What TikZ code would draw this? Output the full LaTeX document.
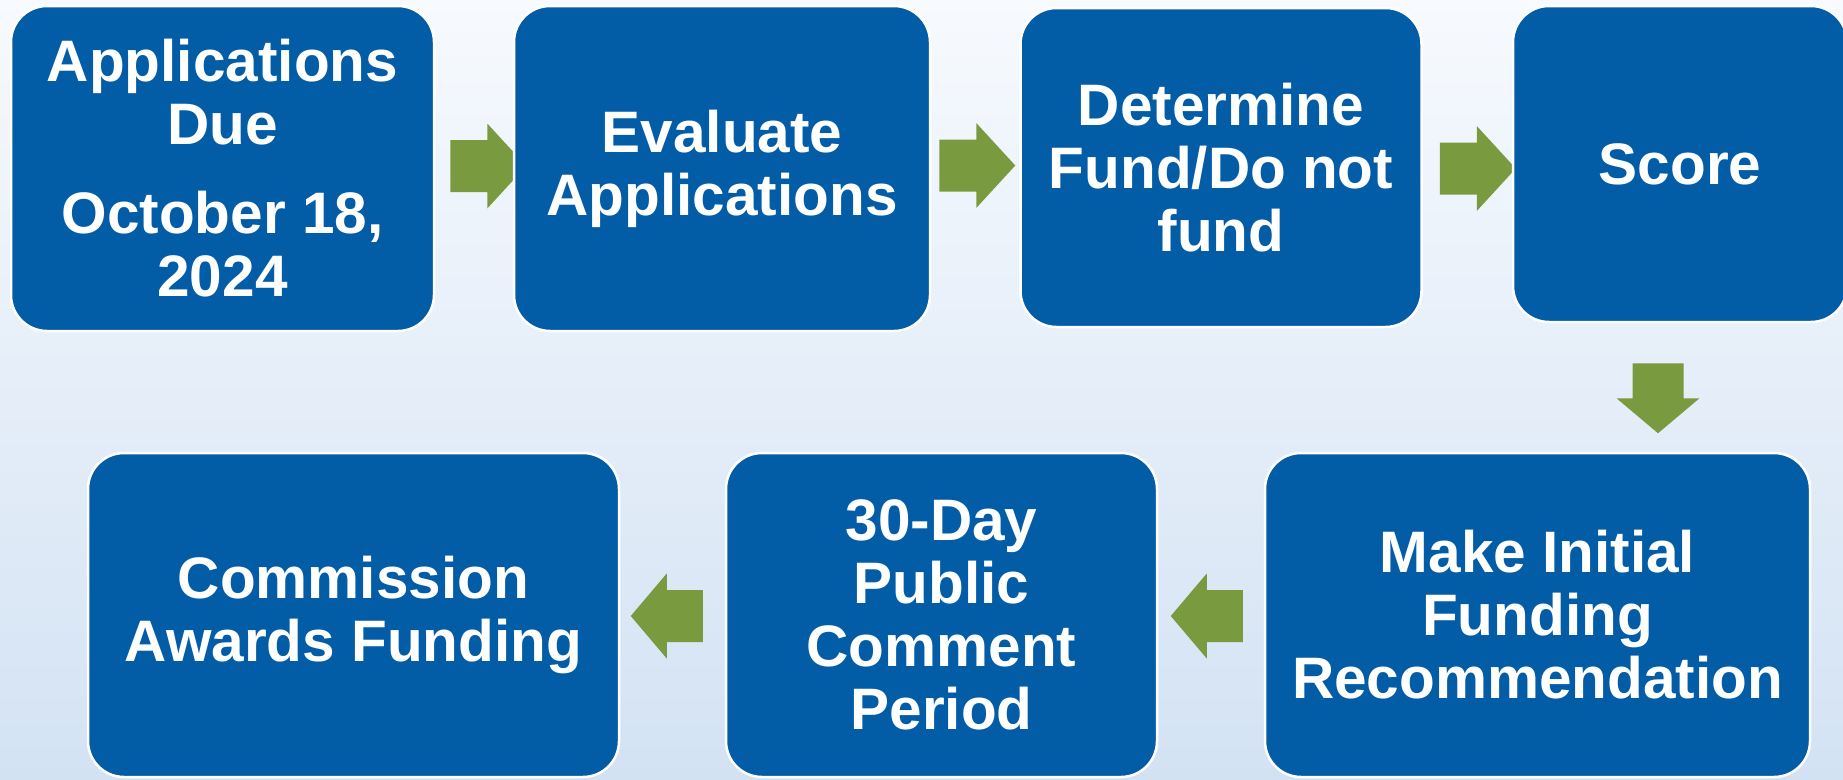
\documentclass[tikz,border=0pt]{standalone}
\usepackage{fontspec}
\setmainfont{Liberation Sans}
\usetikzlibrary{calc}
\definecolor{boxblue}{HTML}{035DA6}
\definecolor{arrgreen}{HTML}{7A9A3F}
\definecolor{bgtop}{HTML}{F7FAFE}
\definecolor{bgbot}{HTML}{D3E2F3}
\pgfdeclarelayer{back}
\pgfdeclarelayer{mid}
\pgfsetlayers{back,mid,main}
\tikzset{
  stepbox/.style={rectangle, rounded corners=36pt, fill=boxblue, draw=white,
    line width=2.5pt, text=white, align=center, inner sep=0pt,
    font=\fontsize{58.5}{63}\selectfont\bfseries},
  rarr/.pic={\fill[arrgreen] (0,-26) -- (37,-26) -- (37,-42.5) -- (76,0) -- (37,42.5) -- (37,26) -- (0,26) -- cycle;},
  larr/.pic={\fill[arrgreen] (0,0) -- (36,-42.5) -- (36,-26) -- (72,-26) -- (72,26) -- (36,26) -- (36,42.5) -- cycle;},
  darr/.pic={\fill[arrgreen] (-25.5,0) -- (25.5,0) -- (25.5,35) -- (41.5,35) -- (0,70) -- (-41.5,35) -- (-25.5,35) -- cycle;}
}
\begin{document}
\begin{tikzpicture}[x=1pt,y=-1pt]
\begin{pgfonlayer}{back}
\shade[top color=bgtop, bottom color=bgbot] (0,0) rectangle (1843,779);
\end{pgfonlayer}
\useasboundingbox (0,0) rectangle (1843,779);
\node[stepbox, minimum width=423pt, minimum height=325pt] (b1) at (222.5,168.5)
  {Applications\\Due\\[26pt]October 18,\\2024};
\node[stepbox, minimum width=416pt, minimum height=325pt] (b2) at (722,168.5)
  {Evaluate\\Applications};
\node[stepbox, minimum width=401pt, minimum height=319pt] (b3) at (1221,167.5)
  {Determine\\Fund/Do not\\fund};
\node[stepbox, minimum width=334pt, minimum height=316pt] (b4) at (1680,164)
  {Score};
\node[stepbox, minimum width=545pt, minimum height=324pt] (b5) at (1537.5,615)
  {Make Initial\\Funding\\Recommendation};
\node[stepbox, minimum width=431pt, minimum height=324pt] (b6) at (941.5,615)
  {30-Day\\Public\\Comment\\Period};
\node[stepbox, minimum width=531pt, minimum height=324pt] (b7) at (353.5,615)
  {Commission\\Awards Funding};
\begin{pgfonlayer}{mid}
\pic at ($(b1.east)+(15,-2.5)$) {rarr};
\pic at ($(b2.east)+(8,-3)$) {rarr};
\pic at ($(b3.east)+(17,1)$) {rarr};
\pic at ($(b4.south)+(-22,40)$) {darr};
\pic at ($(b5.west)+(-93,1)$) {larr};
\pic at ($(b6.west)+(-94,1)$) {larr};
\end{pgfonlayer}
\end{tikzpicture}
\end{document}
